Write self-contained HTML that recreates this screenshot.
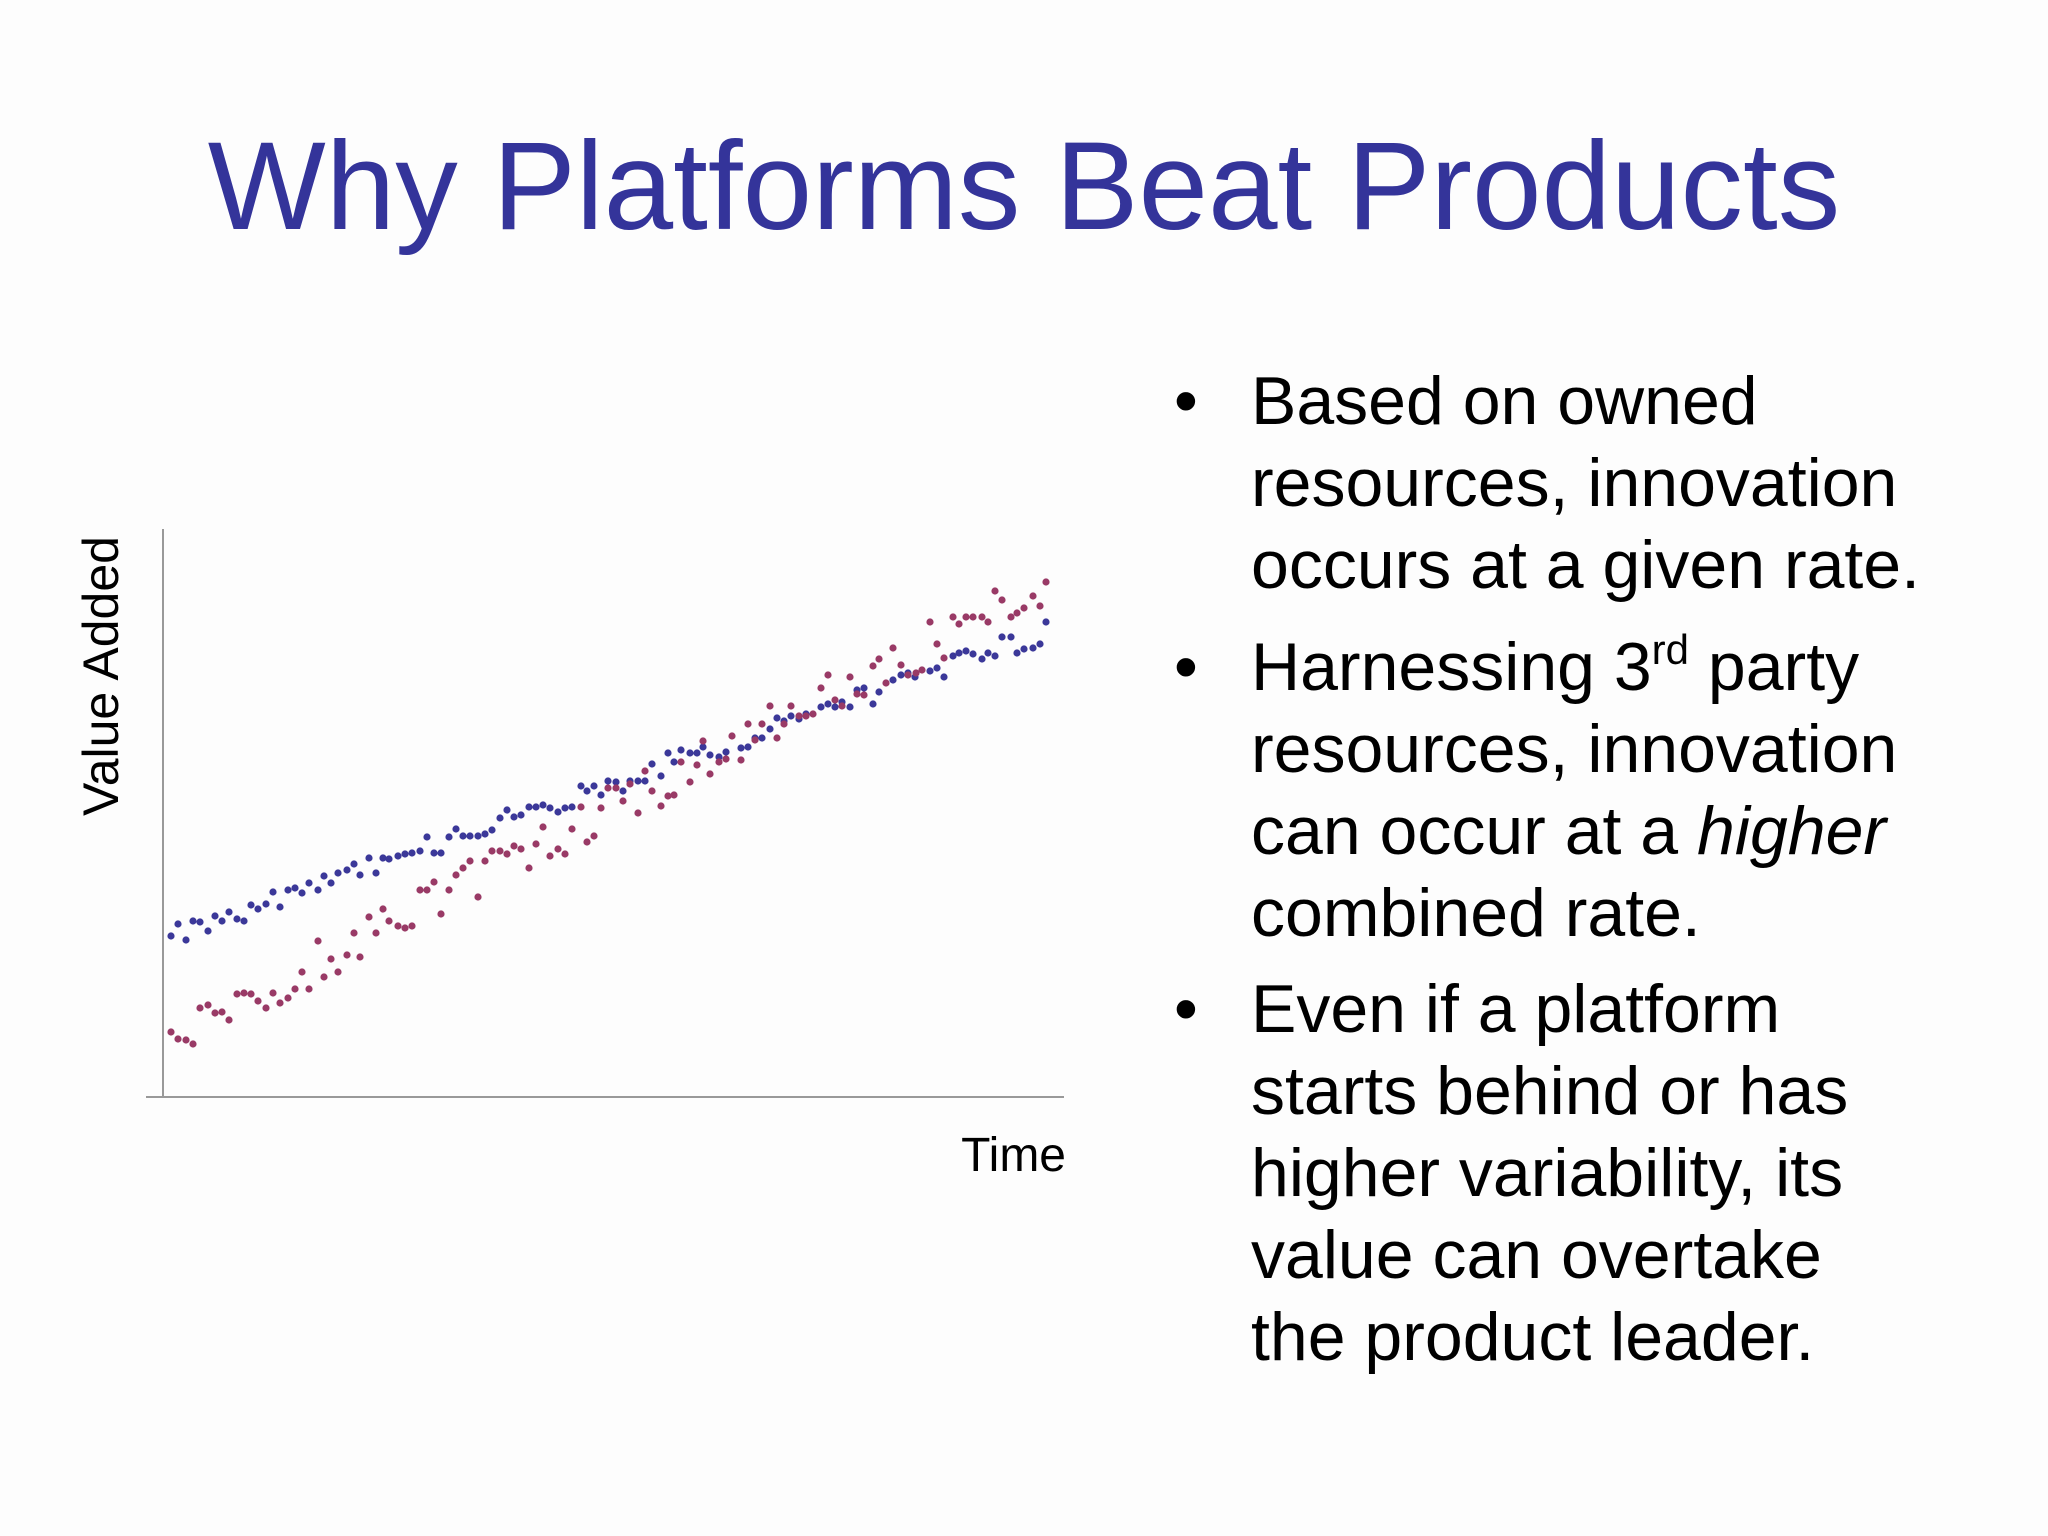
<!DOCTYPE html>
<html><head><meta charset="utf-8"><style>
html,body{margin:0;padding:0;background:#fdfdfd;}
#page{position:relative;width:2048px;height:1536px;overflow:hidden;background:#fdfdfd;font-family:"Liberation Sans",Arial,sans-serif;}
.title{position:absolute;left:0;width:2048px;top:112px;text-align:center;font-size:125px;color:#34349a;line-height:150px;white-space:nowrap;}
.bl{position:absolute;left:1251px;font-size:68px;line-height:82px;color:#000;white-space:nowrap;}
.dot{position:absolute;left:1174px;font-size:68px;line-height:82px;}
.sup{font-size:42px;position:relative;top:-26px;line-height:0;vertical-align:baseline;}
</style></head><body>
<div id="page">
<div class="title">Why Platforms Beat Products</div>

<div>
<div class="dot" style="top:360px">•</div>
<div class="bl" style="top:360px">Based on owned<br>resources, innovation<br>occurs at a given rate.</div>
<div class="dot" style="top:626px">•</div>
<div class="bl" style="top:626px">Harnessing 3<span class="sup">rd</span> party<br>resources, innovation<br>can occur at a <i>higher</i><br>combined rate.</div>
<div class="dot" style="top:968px">•</div>
<div class="bl" style="top:968px">Even if a platform<br>starts behind or has<br>higher variability, its<br>value can overtake<br>the product leader.</div>
</div>

<svg id="chart" width="2048" height="1536" style="position:absolute;left:0;top:0">
<line x1="163" y1="529" x2="163" y2="1097" stroke="#999" stroke-width="2"/>
<line x1="146" y1="1097" x2="1064" y2="1097" stroke="#999" stroke-width="2"/>
<text x="0" y="0" transform="translate(118,676) rotate(-90)" text-anchor="middle" font-size="50" font-family="Liberation Sans, sans-serif" fill="#000">Value Added</text>
<text x="1066" y="1171" text-anchor="end" font-size="48" font-family="Liberation Sans, sans-serif" fill="#000">Time</text>
<g id="marks"></g>
</svg>
</div>
<script>
const productTime=[8,15,23,30,37,45,52,59,66,74,81,88,95,103,110,117,125,132,139,146,155,161,168,175,184,191,197,206,213,220,226,235,242,249,257,264,271,278,286,293,300,307,315,322,329,337,344,351,358,366,373,380,387,395,402,409,418,424,431,438,445,453,460,467,475,482,489,498,505,511,518,527,534,540,547,556,563,578,585,592,599,607,614,621,628,636,643,658,665,672,679,687,694,701,710,716,730,738,745,752,767,774,781,790,796,803,810,819,825,832,839,848,854,861,870,877,883];
const productValue=[161,173,157,176,175,166,181,176,185,178,176,192,188,193,205,190,207,209,204,214,207,221,214,224,227,233,222,239,224,239,238,241,243,244,246,260,244,244,260,268,261,261,261,263,267,279,287,280,282,290,290,292,289,285,289,290,311,306,311,302,316,315,306,316,316,316,333,321,344,335,347,344,344,350,342,340,345,349,350,359,359,368,379,376,381,378,383,390,393,390,395,390,407,409,393,405,417,422,424,420,426,429,420,441,444,446,443,438,444,441,460,460,444,448,449,453,475];
const platformTime=[8,15,23,30,37,45,52,59,66,74,81,88,95,103,110,117,125,132,139,146,155,161,168,175,184,191,197,206,213,220,226,235,242,249,257,264,271,278,286,293,300,307,315,322,329,337,344,351,358,366,373,380,387,395,402,409,418,424,431,438,445,453,460,467,475,482,489,498,505,511,518,527,534,540,547,556,563,569,578,585,592,599,607,614,621,628,636,643,650,658,665,672,679,687,694,701,710,716,723,730,738,745,753,759,767,774,781,790,796,803,810,819,825,832,839,848,854,861,870,877,883];
const platformValue=[65,58,57,53,89,92,84,85,77,103,104,103,96,89,104,94,99,108,125,108,156,120,138,125,142,164,140,180,164,188,176,171,169,171,207,207,215,183,207,222,229,236,200,236,246,246,243,251,248,229,253,270,241,248,243,268,290,255,261,289,309,309,296,313,284,326,306,291,301,302,335,315,332,356,323,335,338,361,337,373,357,373,391,359,373,391,381,381,383,409,422,397,391,420,403,402,431,438,414,449,432,422,424,427,475,453,439,480,473,480,480,480,475,506,497,480,484,489,501,491,515];
const x0=163,y0=1097;
function sx(t){return x0+t;}
function sy(v){return y0-v;}
const g=document.getElementById('marks');
const NS='http://www.w3.org/2000/svg';
function draw(ts,vs,color,name){
  const n=Math.min(ts.length,vs.length);
  for(let i=0;i<n;i++){
    const c=document.createElementNS(NS,'circle');
    c.setAttribute('cx',sx(ts[i]));
    c.setAttribute('cy',sy(vs[i]));
    c.setAttribute('r',3.6);
    c.setAttribute('fill',color);
    
    
    g.appendChild(c);
  }
}
draw(productTime,productValue,'#3b3899','product-point');
draw(platformTime,platformValue,'#993a66','platform-point');
</script>
</body></html>
